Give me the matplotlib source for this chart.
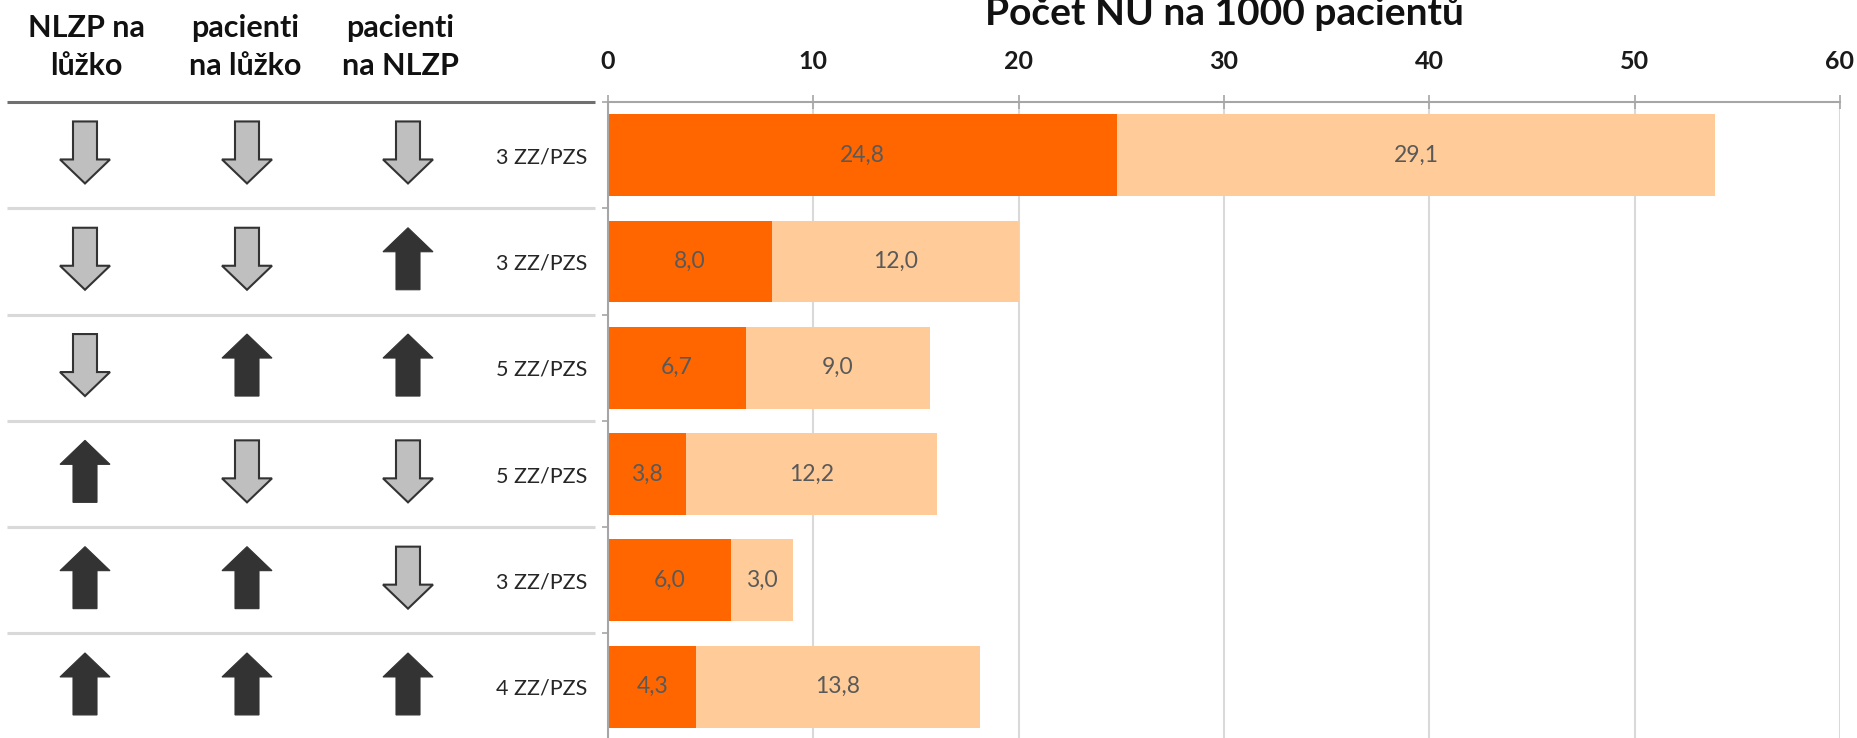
import matplotlib.pyplot as plt
from matplotlib.patches import Polygon

plt.rcParams["font.family"] = ["Lato", "DejaVu Sans"]

categories = ["3 ZZ/PZS", "3 ZZ/PZS", "5 ZZ/PZS", "5 ZZ/PZS", "3 ZZ/PZS", "4 ZZ/PZS"]
first_part = [24.8, 8.0, 6.7, 3.8, 6.0, 4.3]
second_part = [29.1, 12.0, 9.0, 12.2, 3.0, 13.8]

# True = rising (dark up arrow), False = falling (grey down arrow)
nlzp_per_bed = [False, False, False, True, True, True]
patients_per_bed = [False, False, True, False, True, True]
patients_per_nlzp = [False, True, True, False, False, True]

headers = [("NLZP na", "lůžko"), ("pacienti", "na lůžko"), ("pacienti", "na NLZP")]
x_ticks = [0, 10, 20, 30, 40, 50, 60]
title = "Počet NU na 1000 pacientů"

W, H = 1858, 738
ROW_PX = 106.3
AX_LEFT, AX_RIGHT, AX_TOP = 608, 1840, 102
HEADER_X = [86, 245, 400]
ARROW_X = [85, 247, 408]


def fmt(v):
    return f"{v:.1f}".replace(".", ",")


def arrow(xc, row, up):
    # shape in pixels, dy positive = downwards
    pts = [(0, -31), (25, -7), (12, -7), (12, 31), (-12, 31), (-12, -7), (-25, -7)]
    sign = 1 if up else -1
    return [(xc + dx, row + (sign * dy - 2.7) / ROW_PX) for dx, dy in pts]


def main():
    n = len(categories)
    fig = plt.figure(figsize=(W / 100, H / 100), dpi=100)
    ax_bottom = AX_TOP + n * ROW_PX
    ax = fig.add_axes([AX_LEFT / W, (H - ax_bottom) / H,
                       (AX_RIGHT - AX_LEFT) / W, n * ROW_PX / H])

    rows = list(range(n))
    b1 = ax.barh(rows, first_part, height=0.77, color="#FF6600", zorder=2)
    b2 = ax.barh(rows, second_part, left=first_part, height=0.77,
                 color="#FFCC99", zorder=2)
    for cont, vals in ((b1, first_part), (b2, second_part)):
        ax.bar_label(cont, labels=[fmt(v) for v in vals], label_type="center",
                     color="#595959", fontsize=16.5)

    ax.set_xlim(x_ticks[0], x_ticks[-1])
    ax.set_ylim(n - 0.5, -0.5)
    ax.xaxis.tick_top()
    ax.set_xticks(x_ticks)
    ax.set_xticklabels([str(t) for t in x_ticks], fontsize=18,
                       fontweight="bold", color="#1a1a1a")
    ax.tick_params(axis="x", direction="inout", length=9.4, width=1.2,
                   color="#A6A6A6", pad=16)
    ax.grid(axis="x", color="#D9D9D9", lw=1.5, zorder=0)
    ax.set_axisbelow(True)

    ax.set_yticks(rows)
    ax.set_yticklabels(categories, fontsize=15.5, color="#262626")
    ax.tick_params(axis="y", which="major", length=0, pad=15)
    ax.set_yticks([r - 0.5 for r in range(n + 1)], minor=True)
    ax.tick_params(axis="y", which="minor", direction="out", length=4,
                   width=1.2, color="#A6A6A6")

    for side in ("right", "bottom"):
        ax.spines[side].set_visible(False)
    for side in ("top", "left"):
        ax.spines[side].set_color("#A6A6A6")
        ax.spines[side].set_linewidth(1.5)

    # left table with trend arrows
    tab = fig.add_axes([0, (H - ax_bottom) / H, AX_LEFT / W, n * ROW_PX / H])
    tab.set_xlim(0, AX_LEFT)
    tab.set_ylim(n - 0.5, -0.5)
    tab.axis("off")
    tab.plot([7, 595], [-0.5, -0.5], color="#707070", lw=2.2,
             clip_on=False, solid_capstyle="butt")
    for r in range(1, n):
        tab.plot([7, 595], [r - 0.5, r - 0.5], color="#D9D9D9", lw=2.2,
                 solid_capstyle="butt")

    for xc, trend in zip(ARROW_X, (nlzp_per_bed, patients_per_bed, patients_per_nlzp)):
        for r, up in enumerate(trend):
            if up:
                poly = Polygon(arrow(xc, r, True), closed=True,
                               facecolor="#333333", edgecolor="#333333", lw=0.8)
            else:
                poly = Polygon(arrow(xc, r, False), closed=True,
                               facecolor="#BFBFBF", edgecolor="#333333", lw=1.5)
            tab.add_patch(poly)

    for xc, (l1, l2) in zip(HEADER_X, headers):
        fig.text(xc / W, 1 - 37 / H, l1, ha="center", va="baseline",
                 fontsize=22, fontweight="bold", color="#111111")
        fig.text(xc / W, 1 - 75 / H, l2, ha="center", va="baseline",
                 fontsize=22, fontweight="bold", color="#111111")

    # title sits partly above the figure edge, as in the original
    fig.text((AX_LEFT + AX_RIGHT) / 2 / W, 1 - 25 / H, title, ha="center",
             va="baseline", fontsize=28, fontweight="bold", color="#111111")

    fig.savefig("out.png", dpi=100)


if __name__ == "__main__":
    main()
